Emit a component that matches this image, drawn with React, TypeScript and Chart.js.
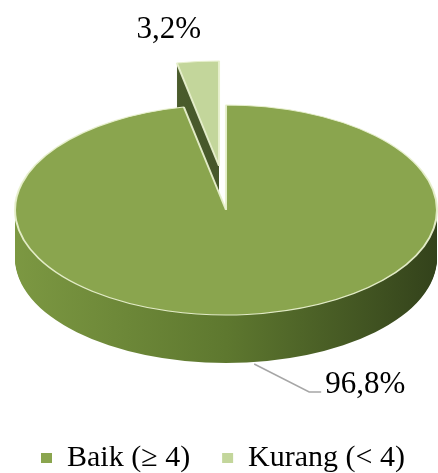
import React, { useEffect, useRef } from 'react';
import { Chart, registerables } from 'chart.js';

Chart.register(...registerables);

// ---- data ----
const categories = ['Baik (\u2265 4)', 'Kurang (< 4)'];
const values = [96.8, 3.2];
const valueLabels = ['96,8%', '3,2%'];

// ---- styles ----
const topColors = ['#8AA54E', '#C3D69B'];
const sideStops = [
  ['#7C9842', '#5E782F', '#33421B'],
  ['#5A6E33', '#46572A', '#3A4822'],
];
const explode = [
  [0, 0],
  [-7, -44],
];
const CX = 226;
const CY = 210;
const RX = 211;
const RY = 105;
const DEPTH = 48;
const FONT = "'Times New Roman', 'Liberation Serif', serif";

const pie3d = {
  id: 'pie3d',
  beforeDatasetsDraw(chart: any) {
    const ctx = chart.ctx as CanvasRenderingContext2D;
    const arcs = chart.getDatasetMeta(0).data as any[];
    const order = arcs.map((_, i) => i).sort((a, b) => explode[a][1] - explode[b][1]);
    for (const i of order) {
      const arc = arcs[i];
      const { x, y, outerRadius: r, startAngle, endAngle } = arc.getProps(
        ['x', 'y', 'outerRadius', 'startAngle', 'endAngle'],
        true
      );
      const [ex, ey] = explode[i];
      const setT = (dy: number) => {
        ctx.translate(CX + ex, CY + ey + dy);
        ctx.scale(RX / r, RY / r);
        ctx.translate(-x, -y);
      };
      const g = ctx.createLinearGradient(x - r, 0, x + r, 0);
      const st = sideStops[i];
      g.addColorStop(0, st[0]);
      g.addColorStop(0.5, st[1]);
      g.addColorStop(1, st[2]);
      for (let d = DEPTH; d >= 1; d--) {
        ctx.save();
        setT(d);
        ctx.beginPath();
        ctx.moveTo(x, y);
        ctx.arc(x, y, r, startAngle, endAngle);
        ctx.closePath();
        ctx.fillStyle = g;
        ctx.fill();
        ctx.restore();
      }
      ctx.save();
      setT(0);
      arc.draw(ctx);
      ctx.restore();
    }
    return false;
  },
  afterDraw(chart: any) {
    const ctx = chart.ctx as CanvasRenderingContext2D;
    const arcs = chart.getDatasetMeta(0).data as any[];
    ctx.save();
    ctx.font = `31px ${FONT}`;
    ctx.fillStyle = '#000';
    ctx.textBaseline = 'alphabetic';
    arcs.forEach((arc, i) => {
      const mid = (arc.startAngle + arc.endAngle) / 2;
      const [ex, ey] = explode[i];
      const px = CX + ex + RX * Math.cos(mid);
      const py = CY + ey + RY * Math.sin(mid);
      if (Math.sin(mid) > 0) {
        const sy = py + DEPTH;
        ctx.strokeStyle = '#A6A6A6';
        ctx.lineWidth = 1.5;
        ctx.beginPath();
        ctx.moveTo(px + 7, sy + 1.5);
        ctx.lineTo(px + 62, sy + 29.5);
        ctx.lineTo(px + 74, sy + 29.5);
        ctx.stroke();
        ctx.textAlign = 'left';
        ctx.fillText(valueLabels[i], px + 78, sy + 30.5);
      } else {
        ctx.textAlign = 'center';
        ctx.fillText(valueLabels[i], px - 29, py - 23.5);
      }
    });
    ctx.restore();
  },
};

export default function App() {
  const ref = useRef<HTMLCanvasElement>(null);
  useEffect(() => {
    if (!ref.current) return;
    const chart = new Chart(ref.current, {
      type: 'pie',
      data: {
        labels: categories,
        datasets: [
          {
            data: values,
            backgroundColor: topColors,
            borderColor: 'rgba(232,240,205,0.95)',
            borderWidth: 2,
          },
        ],
      },
      options: {
        responsive: false,
        animation: false,
        events: [],
        layout: { padding: { left: 8 } },
        plugins: {
          tooltip: { enabled: false },
          legend: {
            position: 'bottom',
            maxHeight: 62,
            labels: {
              font: { family: FONT, size: 30 },
              color: '#000',
              boxWidth: 11,
              boxHeight: 10,
              padding: 32,
              generateLabels: () =>
                categories.map((t, i) => ({
                  text: t,
                  fillStyle: topColors[i],
                  strokeStyle: topColors[i],
                  lineWidth: 0,
                  hidden: false,
                  index: i,
                  fontColor: '#000',
                })),
            },
          },
        },
      } as any,
      plugins: [pie3d as any],
    });
    return () => chart.destroy();
  }, []);
  return (
    <div style={{ position: 'fixed', left: 0, top: 0, width: 438, height: 473, background: '#fff' }}>
      <canvas ref={ref} width={438} height={473} style={{ display: 'block' }} />
    </div>
  );
}
